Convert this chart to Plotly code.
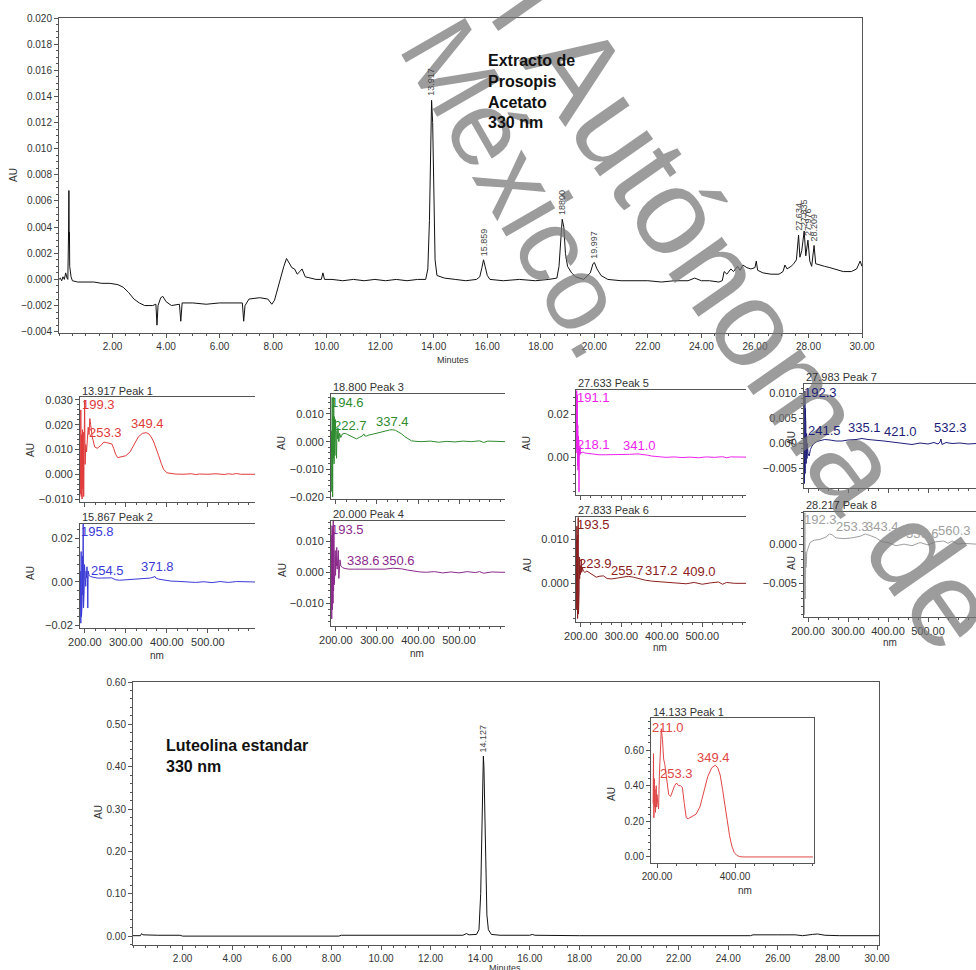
import plotly.graph_objects as go

FONT = "Arial, Liberation Sans, sans-serif"
W, H = 976, 970

# ---------------- data: top chromatogram (Extracto de Prosopis) ----------------
TOP_T = [0.00, 0.05, 0.10, 0.15, 0.20, 0.25, 0.30, 0.33, 0.36, 0.37, 0.38, 0.39, 0.40, 0.45, 0.50,
         0.70, 1.00, 1.30, 1.60, 1.90, 2.20, 2.40, 2.60, 2.80, 3.00, 3.20, 3.50, 3.62, 3.66, 3.70,
         3.80, 3.88, 4.00, 4.20, 4.50, 4.55, 4.60, 5.00, 5.50, 6.00, 6.50, 6.85, 6.90, 6.95, 7.10,
         7.50, 7.80, 7.95, 8.05, 8.20, 8.40, 8.50, 8.60, 8.70, 8.80, 8.90, 9.00, 9.08, 9.20, 9.40,
         9.60, 9.80, 9.86, 9.92, 10.2, 10.6, 11.0, 11.4, 11.8, 12.2, 12.6, 13.0, 13.4, 13.70, 13.78,
         13.84, 13.88, 13.92, 13.96, 14.00, 14.05, 14.12, 14.25, 14.40, 14.8, 15.2, 15.6, 15.72, 15.80,
         15.86, 15.92, 16.00, 16.10, 16.6, 17.2, 17.8, 18.3, 18.60, 18.68, 18.74, 18.80, 18.86, 18.92,
         19.00, 19.15, 19.30, 19.60, 19.85, 19.95, 20.00, 20.10, 20.25, 20.50, 21.0, 21.5, 22.0, 22.5,
         23.0, 23.5, 23.75, 24.0, 24.3, 24.65, 24.78, 24.85, 24.95, 25.10, 25.20, 25.35, 25.45, 25.55,
         25.70, 25.85, 26.00, 26.05, 26.10, 26.30, 26.60, 26.90, 27.05, 27.12, 27.20, 27.35, 27.45,
         27.55, 27.63, 27.68, 27.75, 27.84, 27.90, 27.98, 28.05, 28.12, 28.21, 28.27, 28.40, 28.60,
         28.80, 29.00, 29.30, 29.60, 29.80, 29.93, 30.00]
TOP_AU = [0.0000, 0.0001, -0.0001, 0.0002, 0.0000, 0.0005, 0.0001, 0.0000, 0.0040, 0.0068, 0.0030, 0.0036, 0.0010, 0.0002, -0.0001,
          -0.0002, -0.0002, -0.0002, -0.0003, -0.0003, -0.0004, -0.0006, -0.0010, -0.0015, -0.0018, -0.0020, -0.0020, -0.0019, -0.0035, -0.0020,
          -0.0014, -0.0013, -0.0017, -0.0020, -0.0019, -0.0032, -0.0018, -0.0018, -0.0019, -0.0018, -0.0018, -0.0018, -0.0032, -0.0020, -0.0015,
          -0.0014, -0.0015, -0.0019, -0.0016, -0.0004, 0.0010, 0.0016, 0.0013, 0.0009, 0.0008, 0.0004, 0.0006, 0.0008, 0.0002, 0.0001,
          0.0000, 0.0000, 0.0005, 0.0000, 0.0000, -0.0001, 0.0000, -0.0001, 0.0000, -0.0001, 0.0000, -0.0001, 0.0000, 0.0000, 0.0008,
          0.0045, 0.0105, 0.0137, 0.0120, 0.0060, 0.0015, 0.0003, 0.0002, 0.0001, 0.0000, -0.0001, 0.0000, 0.0002, 0.0009,
          0.0015, 0.0010, 0.0003, 0.0000, -0.0001, 0.0000, -0.0001, 0.0000, 0.0001, 0.0010, 0.0032, 0.0046, 0.0040, 0.0020,
          0.0010, 0.0005, 0.0002, 0.0000, 0.0005, 0.0012, 0.0013, 0.0008, 0.0003, 0.0000, -0.0001, -0.0001, -0.0001, -0.0002,
          -0.0001, -0.0001, 0.0001, -0.0001, -0.0001, -0.0002, -0.0001, 0.0006, 0.0004, 0.0008, 0.0006, 0.0010, 0.0007, 0.0011,
          0.0009, 0.0008, 0.0009, 0.0014, 0.0007, 0.0005, 0.0004, 0.0004, 0.0006, 0.0011, 0.0008, 0.0010, 0.0012,
          0.0015, 0.0034, 0.0017, 0.0022, 0.0037, 0.0018, 0.0030, 0.0014, 0.0010, 0.0026, 0.0012, 0.0011, 0.0010,
          0.0009, 0.0008, 0.0006, 0.0006, 0.0008, 0.0014, 0.0010]
TOP_PEAK_T = [13.917, 15.859, 18.800, 19.997, 27.634, 27.835, 27.976, 28.209]
TOP_PEAK_AU = [0.0137, 0.0015, 0.0046, 0.0013, 0.0034, 0.0037, 0.0030, 0.0026]
TOP_PEAK_TXT = ["13.917", "15.859", "18800", "19.997", "27.634", "27.835", "27.976", "28.209"]
TOP_XTICKS = [2, 4, 6, 8, 10, 12, 14, 16, 18, 20, 22, 24, 26, 28, 30]

# ---------------- data: bottom chromatogram (Luteolina estandar) ----------------
BOT_T = [0.00, 0.30, 0.35, 0.40, 1.0, 1.9, 2.0, 4.0, 6.0, 8.3, 8.4, 10.0, 12.0, 13.3, 13.45, 13.55,
         13.85, 13.95, 14.02, 14.07, 14.10, 14.127, 14.15, 14.18, 14.22, 14.27, 14.33, 14.45, 14.8,
         16.0, 16.1, 16.2, 18.0, 20.0, 22.0, 24.9, 25.0, 25.6, 26.0, 26.7, 27.0, 27.4, 27.6, 27.9, 28.5, 30.08]
BOT_AU = [0.001, 0.001, 0.006, 0.003, 0.002, 0.002, 0.000, 0.000, -0.001, 0.000, 0.002, 0.002, 0.002, 0.002, 0.006, 0.003,
          0.004, 0.015, 0.10, 0.30, 0.40, 0.425, 0.40, 0.30, 0.15, 0.05, 0.015, 0.004, 0.002,
          0.002, 0.004, 0.002, 0.001, 0.001, 0.001, 0.001, 0.003, 0.004, 0.003, 0.003, 0.001, 0.004, 0.005, 0.002, 0.001, 0.001]
BOT_PEAK_T = [14.127]
BOT_PEAK_AU = [0.425]
BOT_PEAK_TXT = ["14.127"]

# ---------------- data: inset spectrum (14.133 Peak 1) ----------------
INS_NM = [190, 191, 192, 193, 194, 195, 196, 197, 198, 199, 200, 202, 204, 206, 208, 211, 214, 217, 220, 225,
          230, 235, 240, 245, 250, 255, 260, 265, 270, 275, 280, 290, 300, 310, 320, 330, 340, 349.4, 356, 362,
          368, 374, 380, 386, 392, 398, 405, 412, 420, 440, 500, 600]
INS_AU = [0.30, 0.58, 0.22, 0.44, 0.28, 0.38, 0.25, 0.30, 0.40, 0.28, 0.35, 0.30, 0.27, 0.45, 0.55, 0.72, 0.66, 0.55, 0.52, 0.42,
          0.35, 0.34, 0.37, 0.40, 0.415, 0.40, 0.40, 0.39, 0.30, 0.22, 0.215, 0.23, 0.24, 0.28, 0.36, 0.45, 0.50, 0.515, 0.50, 0.46,
          0.38, 0.29, 0.20, 0.12, 0.06, 0.025, 0.008, 0.002, 0.0, 0.0, 0.0, 0.0]
INS_LBL_TXT = ["211.0", "253.3", "349.4"]
INS_LBL_NM = [227, 251, 346]
INS_LBL_AU = [0.729, 0.466, 0.561]

# ---------------- data: PDA spectra of the extract peaks ----------------
P1_NM = [189, 190, 191, 192, 193, 194, 195, 196, 197, 198, 199.3, 200.5, 202, 204, 206, 208, 210, 212, 214, 218, 224, 230,
         238, 246, 253, 260, 266, 270, 275, 280, 290, 300, 310, 320, 330, 340, 349.4, 356, 362, 368, 374, 380, 386, 392,
         400, 410, 420, 440, 460, 470, 480, 500, 520, 540, 550, 560, 570, 580, 600, 615]
P1_AU = [-0.008, 0.026, -0.009, 0.016, -0.010, 0.018, -0.006, 0.017, -0.009, 0.014, 0.030, 0.004, 0.012, 0.009, 0.017, 0.019,
         0.016, 0.0225, 0.020, 0.015, 0.011, 0.0105, 0.0115, 0.013, 0.0128, 0.0125, 0.0122, 0.0105, 0.008, 0.0067, 0.007,
         0.0075, 0.009, 0.012, 0.015, 0.0165, 0.0168, 0.0163, 0.0150, 0.0130, 0.0105, 0.0075, 0.0045, 0.0020, 0.0006, 0.0002,
         0.0001, 0.0, 0.0002, -0.0001, 0.0001, 0.0, 0.0002, -0.0001, 0.0002, 0.0, 0.0003, 0.0, 0.0001, 0.0]
P1_LBL_TXT = ["199.3", "253.3", "349.4"]
P1_LBL_NM = [232, 251, 353]
P1_LBL_AU = [0.028, 0.0167, 0.0203]

P2_NM = [189, 190, 190.8, 191.6, 192.4, 193.2, 194, 194.8, 195.8, 196.6, 197.4, 198.2, 199, 200, 201, 202, 203, 204, 205,
         206, 207, 208, 210, 214, 220, 230, 240, 254.5, 265, 275, 285, 300, 320, 340, 360, 371, 373, 380, 395, 410, 425,
         450, 470, 490, 510, 530, 550, 570, 590, 615]
P2_AU = [0.005, -0.019, 0.014, -0.016, 0.013, -0.010, 0.012, -0.006, 0.027, -0.012, 0.010, -0.004, 0.008, 0.001, 0.006,
         -0.002, 0.005, 0.002, 0.007, 0.003, -0.012, 0.005, 0.003, 0.0025, 0.0022, 0.0018, 0.0018, 0.0020, 0.0019, 0.0010,
         0.0008, 0.0010, 0.0013, 0.0016, 0.0018, 0.0025, 0.0018, 0.0013, 0.0008, 0.0004, 0.0003, 0.0002, -0.0002, 0.0001,
         -0.0003, 0.0002, -0.0002, 0.0002, 0.0001, 0.0]
P2_LBL_TXT = ["195.8", "254.5", "371.8"]
P2_LBL_NM = [230, 254, 376]
P2_LBL_AU = [0.0231, 0.0051, 0.0069]

P3_NM = [189, 190, 191, 192, 193, 194, 194.6, 195.5, 196.5, 197.5, 198.5, 199.5, 200.5, 201.5, 202.5, 203.5, 205, 207,
         209, 212, 216, 222.7, 228, 235, 242, 250, 258, 264, 268, 270, 274, 280, 290, 300, 310, 320, 330, 337.4, 345,
         352, 360, 368, 376, 384, 395, 410, 430, 450, 470, 490, 510, 530, 550, 560, 570, 590, 612]
P3_AU = [0.004, -0.018, 0.016, -0.020, 0.009, -0.006, 0.016, -0.008, 0.009, -0.005, 0.008, -0.001, 0.006, -0.006, 0.004,
         0.001, 0.005, 0.000, 0.003, 0.0015, 0.0028, 0.0030, 0.0026, 0.0020, 0.0015, 0.0010, 0.0016, 0.0020, 0.0028,
         0.0021, 0.0020, 0.0024, 0.0027, 0.0030, 0.0034, 0.0038, 0.0042, 0.0043, 0.0041, 0.0036, 0.0028, 0.0018, 0.0009,
         0.0003, 0.0001, 0.0, 0.0002, -0.0002, 0.0001, -0.0001, 0.0002, 0.0, 0.0003, -0.0003, 0.0002, 0.0, 0.0]
P3_LBL_TXT = ["194.6", "222.7", "337.4"]
P3_LBL_NM = [229, 235, 338]
P3_LBL_AU = [0.0141, 0.0060, 0.0072]

P4_NM = [189, 189.8, 190.6, 191.4, 192.2, 193, 193.5, 194.3, 195.1, 195.9, 196.7, 197.5, 198.3, 199.1, 200, 201, 202,
         203, 204, 205, 206, 207, 208, 209, 210, 212, 216, 222, 232, 245, 260, 280, 300, 320, 338.6, 350.6, 360, 375,
         390, 405, 420, 440, 460, 480, 500, 520, 540, 550, 560, 580, 600, 612]
P4_AU = [0.012, -0.015, 0.015, -0.012, 0.014, -0.010, 0.0165, -0.006, 0.013, -0.004, 0.009, 0.000, 0.007, -0.001, 0.005,
         0.002, 0.008, 0.001, 0.006, 0.002, 0.007, -0.002, 0.003, -0.001, 0.004, 0.002, 0.0015, 0.0012, 0.001, 0.001,
         0.001, 0.0009, 0.0008, 0.0010, 0.0013, 0.0013, 0.0011, 0.0007, 0.0003, 0.0001, 0.0, 0.0002, -0.0002, 0.0001,
         -0.0002, 0.0002, -0.0001, 0.0002, -0.0003, 0.0001, 0.0, 0.0]
P4_LBL_TXT = ["193.5", "338.6", "350.6"]
P4_LBL_NM = [227, 267, 352]
P4_LBL_AU = [0.0139, 0.0037, 0.0037]

P5_NM = [189, 189.8, 190.4, 191.1, 191.8, 192.4, 193, 193.6, 194.2, 194.8, 195.4, 196, 197, 198, 199, 200, 202, 205,
         210, 218.1, 230, 245, 260, 280, 300, 320, 341, 355, 365, 375, 390, 410, 430, 450, 470, 490, 510, 530, 550,
         560, 570, 590, 608]
P5_AU = [0.004, 0.031, 0.002, 0.029, -0.004, 0.015, -0.006, 0.010, -0.002, 0.008, -0.016, 0.004, 0.001, 0.005, 0.0015,
         0.0025, 0.002, 0.0025, 0.002, 0.0018, 0.0015, 0.0012, 0.0012, 0.0012, 0.0013, 0.0014, 0.0016, 0.0014, 0.0010,
         0.0006, 0.0002, 0.0, 0.0002, -0.0001, 0.0001, -0.0002, 0.0002, 0.0, 0.0003, -0.0002, 0.0002, 0.0, 0.0001]
P5_LBL_TXT = ["191.1", "218.1", "341.0"]
P5_LBL_NM = [230, 232, 346]
P5_LBL_AU = [0.0276, 0.0062, 0.0053]

P6_NM = [189, 189.6, 190.2, 190.8, 191.4, 192, 192.6, 193.5, 194.2, 194.9, 195.6, 196.3, 197, 198, 199, 200, 201, 202,
         204, 206, 210, 215, 223.9, 230, 238, 245, 255.7, 265, 275, 290, 305, 317.2, 330, 345, 360, 375, 390, 409, 420,
         440, 460, 480, 500, 520, 540, 550, 560, 580, 600, 608]
P6_AU = [0.010, -0.006, 0.013, -0.004, 0.011, -0.008, 0.006, 0.015, -0.007, 0.004, -0.002, 0.006, 0.001, 0.004, 0.002,
         0.003, 0.0055, 0.0025, 0.0035, 0.0028, 0.0025, 0.0028, 0.0022, 0.0020, 0.0014, 0.0016, 0.0017, 0.0011, 0.0010,
         0.0012, 0.0015, 0.0016, 0.0014, 0.0010, 0.0007, 0.0005, 0.0004, 0.0002, 0.0001, 0.0, -0.0001, 0.0002, -0.0002,
         0.0001, 0.0003, -0.0002, 0.0002, 0.0, 0.0001, 0.0]
P6_LBL_TXT = ["193.5", "223.9", "255.7", "317.2", "409.0"]
P6_LBL_NM = [232, 237, 314, 398, 492]
P6_LBL_AU = [0.0133, 0.0045, 0.0030, 0.0030, 0.0026]

P7_NM = [190, 190.5, 191, 191.5, 192.3, 192.8, 193.3, 193.8, 194.5, 195.5, 196.5, 197.5, 198.5, 200, 203, 206, 210, 215,
         222, 230, 241.5, 255, 270, 285, 300, 320, 335.1, 350, 370, 390, 410, 421, 440, 460, 480, 500, 515, 525, 530,
         532.3, 535, 545, 560, 580, 600, 620]
P7_AU = [-0.004, 0.010, -0.008, 0.009, 0.0105, -0.006, 0.007, -0.004, 0.004, -0.004, 0.002, -0.003, 0.0, -0.002, -0.0025,
         -0.0012, -0.0005, 0.0, 0.0004, 0.0006, 0.0008, 0.0007, 0.0005, 0.0005, 0.0007, 0.0008, 0.0010, 0.0008, 0.0007,
         0.0005, 0.0003, 0.0002, 0.0, -0.0002, 0.0001, -0.0001, 0.0002, -0.0001, 0.0003, 0.0009, -0.0002, 0.0002, 0.0,
         0.0001, -0.0001, 0.0]
P7_LBL_TXT = ["192.3", "241.5", "335.1", "421.0", "532.3"]
P7_LBL_NM = [230, 240, 340, 432, 555]
P7_LBL_AU = [0.0101, 0.0025, 0.0031, 0.0023, 0.0031]

P8_NM = [190, 191, 192, 192.3, 193, 194, 195, 197, 200, 205, 215, 230, 245, 253.3, 260, 270, 290, 310, 330, 343.4, 355,
         370, 385, 400, 420, 440, 460, 480, 500, 520, 539.6, 550, 560.3, 575, 590, 620]
P8_AU = [0.0, -0.009, 0.003, 0.004, -0.007, -0.001, -0.003, -0.001, -0.0005, 0.0002, 0.0005, 0.0006, 0.0009, 0.0013,
         0.0012, 0.0008, 0.0007, 0.0008, 0.0010, 0.0013, 0.0011, 0.0008, 0.0003, 0.0002, -0.0002, 0.0, -0.0002, 0.0002,
         -0.0001, 0.0003, 0.0004, 0.0001, 0.0004, 0.0, 0.0001, 0.0]
P8_LBL_TXT = ["192.3", "253.3", "343.4", "539.6", "560.3"]
P8_LBL_NM = [232, 312, 387, 485, 567]
P8_LBL_AU = [0.0032, 0.0022, 0.0022, 0.0014, 0.0017]

PANEL_TITLES = ["13.917 Peak 1", "15.867 Peak 2", "18.800 Peak 3", "20.000 Peak 4",
                "27.633 Peak 5", "27.833 Peak 6", "27.983 Peak 7", "28.217 Peak 8"]
NM_TICKS = [200, 300, 400, 500]

WATERMARK_1 = "l Autónoma de"
WATERMARK_2 = "México."

# ---------------- helpers ----------------
def dx(l, r):
    return [l / W, min(r / W, 1.0)]


def dy(t, b):
    return [1 - b / H, 1 - t / H]


def px(p):
    return p / W


def py(p):
    return 1 - p / H


AXC = "#555555"
BASE = dict(showline=True, linecolor=AXC, linewidth=1, ticks="outside", ticklen=4, tickwidth=1,
            tickcolor=AXC, showgrid=False, zeroline=False, automargin=False,
            tickfont=dict(family=FONT, size=10, color="#333333"))


def axis(**kw):
    d = dict(BASE)
    d.update(kw)
    return d


def paper_text(x, y, text, size=10, color="#333", angle=0, xa="center", ya="middle", **kw):
    d = dict(x=px(x), y=py(y), xref="paper", yref="paper", text=text, textangle=angle, showarrow=False,
             xanchor=xa, yanchor=ya, font=dict(family=FONT, size=size, color=color))
    d.update(kw)
    return d


fig = go.Figure()
layout = dict(width=W, height=H, autosize=False,
              margin=dict(l=0, r=0, t=0, b=0, pad=0, autoexpand=False), paper_bgcolor="white",
              plot_bgcolor="white", showlegend=False, font=dict(family=FONT, size=10, color="#333"))
ann = []

# ---- watermark (drawn first so other texts sit above it) ----
WM = "rgba(118,118,118,0.72)"
ann.append(dict(x=px(747), y=py(313), xref="paper", yref="paper", text=WATERMARK_1, textangle=55,
                showarrow=False, xanchor="center", yanchor="middle",
                font=dict(family="Liberation Sans, Arial", size=123, color=WM)))
ann.append(dict(x=px(521), y=py(188), xref="paper", yref="paper", text=WATERMARK_2, textangle=60,
                showarrow=False, xanchor="center", yanchor="middle",
                font=dict(family="Liberation Sans, Arial", size=107, color=WM)))

# ---- top chromatogram ----
fig.add_trace(go.Scatter(x=TOP_T, y=TOP_AU, mode="lines", line=dict(color="#111", width=1),
                         xaxis="x", yaxis="y", hoverinfo="skip"))
layout["xaxis"] = axis(domain=dx(59, 862), range=[0, 30], tickvals=TOP_XTICKS, tickformat=".2f",
                       mirror=True, anchor="y", minor=dict(ticks="outside", ticklen=2, dtick=0.5, tickcolor=AXC))
layout["yaxis"] = axis(domain=dy(18, 333), range=[-0.0041, 0.020], dtick=0.002, tick0=0, tickformat=".3f",
                       mirror=True, anchor="x", minor=dict(ticks="outside", ticklen=2, dtick=0.0005, tickcolor=AXC))
for t, v, s in zip(TOP_PEAK_T, TOP_PEAK_AU, TOP_PEAK_TXT):
    ann.append(dict(x=t, y=v, xref="x", yref="y", text=s, textangle=-90, showarrow=False,
                    yanchor="bottom", xanchor="center", yshift=2, font=dict(family=FONT, size=9, color="#444")))
ann.append(paper_text(486, 50, "<b>Extracto de<br>Prosopis<br>Acetato<br>330 nm</b>", size=16, color="#111",
                      xa="left", ya="top", align="left"))
ann.append(paper_text(13, 175, "AU", angle=-90))
ann.append(paper_text(453, 360, "Minutes", size=9))

# ---- bottom chromatogram ----
fig.add_trace(go.Scatter(x=BOT_T, y=BOT_AU, mode="lines", line=dict(color="#111", width=1),
                         xaxis="x2", yaxis="y2", hoverinfo="skip"))
layout["xaxis2"] = axis(domain=dx(133, 879), range=[0, 30.08], tickvals=TOP_XTICKS, tickformat=".2f",
                        mirror=True, anchor="y2", minor=dict(ticks="outside", ticklen=2, dtick=0.5, tickcolor=AXC))
layout["yaxis2"] = axis(domain=dy(682, 945), range=[-0.021, 0.60], dtick=0.1, tick0=0, tickformat=".2f",
                        mirror=True, anchor="x2", minor=dict(ticks="outside", ticklen=2, dtick=0.02, tickcolor=AXC))
for t, v, s in zip(BOT_PEAK_T, BOT_PEAK_AU, BOT_PEAK_TXT):
    ann.append(dict(x=t, y=v, xref="x2", yref="y2", text=s, textangle=-90, showarrow=False,
                    yanchor="bottom", xanchor="center", yshift=2, font=dict(family=FONT, size=9, color="#444")))
ann.append(paper_text(164, 735, "<b>Luteolina estandar<br>330 nm</b>", size=16, color="#111",
                      xa="left", ya="top", align="left"))
ann.append(paper_text(98, 812, "AU", angle=-90))
ann.append(paper_text(505, 968, "Minutes", size=9))

# ---- inset spectrum ----
fig.add_trace(go.Scatter(x=INS_NM, y=INS_AU, mode="lines", line=dict(color="#e04646", width=1),
                         xaxis="x11", yaxis="y11", hoverinfo="skip"))
layout["xaxis11"] = axis(domain=dx(651, 814), range=[184.6, 602.6], tickvals=[200, 400], tickformat=".2f",
                         mirror=True, anchor="y11", minor=dict(ticks="outside", ticklen=2, dtick=50, tickcolor=AXC))
layout["yaxis11"] = axis(domain=dy(718, 863), range=[-0.034, 0.78], dtick=0.2, tick0=0, tickformat=".2f",
                         mirror=True, anchor="x11", minor=dict(ticks="outside", ticklen=2, dtick=0.04, tickcolor=AXC))
for s, x, v in zip(INS_LBL_TXT, INS_LBL_NM, INS_LBL_AU):
    ann.append(dict(x=x, y=v, xref="x11", yref="y11", text=s, showarrow=False, xanchor="center", yanchor="middle",
                    font=dict(family=FONT, size=13, color="#e04646")))
ann.append(paper_text(651, 712, "14.133 Peak 1", size=11, xa="left"))
ann.append(paper_text(611, 794, "AU", angle=-90))
ann.append(paper_text(745, 890, "nm"))

# ---- spectra panels ----
panels = [
    dict(nm=P1_NM, au=P1_AU, lt=P1_LBL_TXT, lx=P1_LBL_NM, ly=P1_LBL_AU, color="#e03b3b",
         box=(80, 255, 397, 502), xr=(188, 615), yr=(-0.0112, 0.0312), dt=0.01, fmt=".3f", mn=0.002,
         xl=False, au_pos=(30, 450), title_y=391),
    dict(nm=P2_NM, au=P2_AU, lt=P2_LBL_TXT, lx=P2_LBL_NM, ly=P2_LBL_AU, color="#3a3ad6",
         box=(80, 255, 524, 628), xr=(188, 615), yr=(-0.0212, 0.0267), dt=0.02, fmt=".2f", mn=0.004,
         xl=True, au_pos=(30, 573), title_y=517, nm_pos=(157, 655)),
    dict(nm=P3_NM, au=P3_AU, lt=P3_LBL_TXT, lx=P3_LBL_NM, ly=P3_LBL_AU, color="#2e8b2e",
         box=(331, 505, 394, 499), xr=(188, 612), yr=(-0.0207, 0.0172), dt=0.01, fmt=".3f", mn=0.002,
         xl=False, au_pos=(282, 443), title_y=387),
    dict(nm=P4_NM, au=P4_AU, lt=P4_LBL_TXT, lx=P4_LBL_NM, ly=P4_LBL_AU, color="#8b2a8b",
         box=(331, 505, 521, 626), xr=(188, 612), yr=(-0.0173, 0.0165), dt=0.01, fmt=".3f", mn=0.002,
         xl=True, au_pos=(282, 570), title_y=514, nm_pos=(417, 653)),
    dict(nm=P5_NM, au=P5_AU, lt=P5_LBL_TXT, lx=P5_LBL_NM, ly=P5_LBL_AU, color="#ee22ee",
         box=(576, 746, 390, 495), xr=(188, 608), yr=(-0.0175, 0.0313), dt=0.02, fmt=".2f", mn=0.004,
         xl=False, au_pos=(527, 443), title_y=383),
    dict(nm=P6_NM, au=P6_AU, lt=P6_LBL_TXT, lx=P6_LBL_NM, ly=P6_LBL_AU, color="#8b2020",
         box=(576, 746, 517, 622), xr=(188, 608), yr=(-0.0088, 0.0151), dt=0.01, fmt=".3f", mn=0.002,
         xl=True, au_pos=(527, 565), title_y=510, nm_pos=(660, 647)),
    dict(nm=P7_NM, au=P7_AU, lt=P7_LBL_TXT, lx=P7_LBL_NM, ly=P7_LBL_AU, color="#1e1e7a",
         box=(804, 976, 384, 488), xr=(190, 620), yr=(-0.0089, 0.0119), dt=0.005, fmt=".3f", mn=0.001,
         xl=False, au_pos=(792, 438), title_y=377),
    dict(nm=P8_NM, au=P8_AU, lt=P8_LBL_TXT, lx=P8_LBL_NM, ly=P8_LBL_AU, color="#a0a0a0",
         box=(804, 976, 512, 617), xr=(190, 620), yr=(-0.0093, 0.0041), dt=0.005, fmt=".3f", mn=0.001,
         xl=True, au_pos=(791, 563), title_y=505, nm_pos=(890, 642)),
]

for i, p in enumerate(panels):
    n = i + 3
    xa, ya = f"x{n}", f"y{n}"
    l, r, t, b = p["box"]
    fig.add_trace(go.Scatter(x=p["nm"], y=p["au"], mode="lines", line=dict(color=p["color"], width=1),
                             xaxis=xa, yaxis=ya, hoverinfo="skip"))
    layout[f"xaxis{n}"] = axis(domain=dx(l, r), range=list(p["xr"]), tickvals=NM_TICKS, tickformat=".2f",
                               showticklabels=p["xl"], mirror=True, anchor=ya,
                               tickfont=dict(family=FONT, size=11, color="#333"),
                               minor=dict(ticks="outside", ticklen=2, dtick=25, tickcolor=AXC))
    layout[f"yaxis{n}"] = axis(domain=dy(t, b), range=list(p["yr"]), dtick=p["dt"], tick0=0,
                               tickformat=p["fmt"], anchor=xa,
                               tickfont=dict(family=FONT, size=11, color="#333"),
                               minor=dict(ticks="outside", ticklen=2, dtick=p["mn"], tickcolor=AXC))
    for s, x, v in zip(p["lt"], p["lx"], p["ly"]):
        ann.append(dict(x=x, y=v, xref=xa, yref=ya, text=s, showarrow=False, xanchor="center", yanchor="middle",
                        font=dict(family=FONT, size=13, color=p["color"])))
    ann.append(paper_text(l, p["title_y"], PANEL_TITLES[i], size=11, xa="left"))
    ann.append(paper_text(p["au_pos"][0], p["au_pos"][1], "AU", angle=-90))
    if "nm_pos" in p:
        ann.append(paper_text(p["nm_pos"][0], p["nm_pos"][1], "nm"))

layout["annotations"] = ann
fig.update_layout(**layout)
fig.write_html("out.html",
               post_script="document.documentElement.style.margin='0';document.body.style.margin='0';"
                           "document.body.style.padding='0';document.documentElement.style.overflow='hidden';")
